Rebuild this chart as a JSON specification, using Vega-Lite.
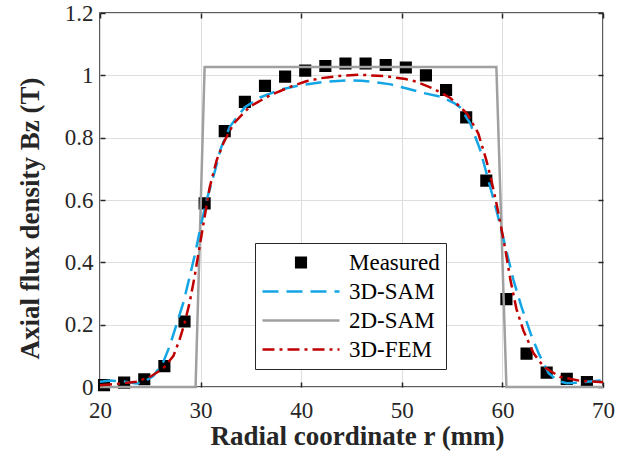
{
  "$schema": "https://vega.github.io/schema/vega-lite/v6.json",
  "autosize": {"type": "none"},
  "padding": {"left": 100, "top": 13, "right": 25, "bottom": 75},
  "width": 503,
  "height": 374,
  "background": "white",
  "config": {
    "view": {"stroke": "#262626", "strokeWidth": 1.5},
    "font": "Liberation Serif",
    "axis": {
      "labelFlush": false,
      "domain": false,
      "tickColor": "#262626",
      "tickWidth": 1.5,
      "tickSize": -5,
      "gridColor": "#dedede",
      "gridWidth": 1,
      "gridOpacity": 1
    }
  },
  "data": {
    "values": [
      {"series": "Measured", "r": 20.4, "b": 0.006},
      {"series": "Measured", "r": 22.4, "b": 0.014},
      {"series": "Measured", "r": 24.4, "b": 0.025},
      {"series": "Measured", "r": 26.4, "b": 0.067},
      {"series": "Measured", "r": 28.4, "b": 0.21},
      {"series": "Measured", "r": 30.4, "b": 0.589},
      {"series": "Measured", "r": 32.4, "b": 0.821},
      {"series": "Measured", "r": 34.4, "b": 0.915},
      {"series": "Measured", "r": 36.4, "b": 0.966},
      {"series": "Measured", "r": 38.4, "b": 0.996},
      {"series": "Measured", "r": 40.4, "b": 1.015},
      {"series": "Measured", "r": 42.4, "b": 1.03},
      {"series": "Measured", "r": 44.4, "b": 1.038},
      {"series": "Measured", "r": 46.4, "b": 1.038},
      {"series": "Measured", "r": 48.4, "b": 1.033},
      {"series": "Measured", "r": 50.4, "b": 1.025},
      {"series": "Measured", "r": 52.4, "b": 1.0},
      {"series": "Measured", "r": 54.4, "b": 0.953},
      {"series": "Measured", "r": 56.4, "b": 0.865},
      {"series": "Measured", "r": 58.4, "b": 0.662},
      {"series": "Measured", "r": 60.4, "b": 0.282},
      {"series": "Measured", "r": 62.4, "b": 0.107},
      {"series": "Measured", "r": 64.4, "b": 0.046},
      {"series": "Measured", "r": 66.4, "b": 0.026},
      {"series": "Measured", "r": 68.4, "b": 0.016},

      {"series": "2D-SAM", "r": 20.0, "b": 0.0},
      {"series": "2D-SAM", "r": 29.5, "b": 0.0},
      {"series": "2D-SAM", "r": 30.4, "b": 1.027},
      {"series": "2D-SAM", "r": 59.4, "b": 1.027},
      {"series": "2D-SAM", "r": 60.4, "b": 0.0},
      {"series": "2D-SAM", "r": 70.0, "b": 0.0},

      {"series": "3D-SAM", "r": 20.0, "b": 0.017},
      {"series": "3D-SAM", "r": 21.0, "b": 0.021},
      {"series": "3D-SAM", "r": 22.5, "b": 0.017},
      {"series": "3D-SAM", "r": 23.6, "b": 0.011},
      {"series": "3D-SAM", "r": 24.3, "b": 0.015},
      {"series": "3D-SAM", "r": 25.3, "b": 0.035},
      {"series": "3D-SAM", "r": 26.3, "b": 0.081},
      {"series": "3D-SAM", "r": 26.9, "b": 0.129},
      {"series": "3D-SAM", "r": 27.6, "b": 0.2},
      {"series": "3D-SAM", "r": 28.3, "b": 0.272},
      {"series": "3D-SAM", "r": 28.9, "b": 0.352},
      {"series": "3D-SAM", "r": 29.4, "b": 0.42},
      {"series": "3D-SAM", "r": 30.0, "b": 0.514},
      {"series": "3D-SAM", "r": 30.6, "b": 0.6},
      {"series": "3D-SAM", "r": 31.4, "b": 0.69},
      {"series": "3D-SAM", "r": 32.0, "b": 0.765},
      {"series": "3D-SAM", "r": 32.9, "b": 0.835},
      {"series": "3D-SAM", "r": 33.6, "b": 0.865},
      {"series": "3D-SAM", "r": 34.4, "b": 0.898},
      {"series": "3D-SAM", "r": 35.9, "b": 0.929},
      {"series": "3D-SAM", "r": 37.9, "b": 0.954},
      {"series": "3D-SAM", "r": 39.9, "b": 0.968},
      {"series": "3D-SAM", "r": 42.2, "b": 0.979},
      {"series": "3D-SAM", "r": 44.5, "b": 0.984},
      {"series": "3D-SAM", "r": 46.0, "b": 0.983},
      {"series": "3D-SAM", "r": 47.2, "b": 0.979},
      {"series": "3D-SAM", "r": 48.9, "b": 0.971},
      {"series": "3D-SAM", "r": 50.5, "b": 0.958},
      {"series": "3D-SAM", "r": 52.2, "b": 0.943},
      {"series": "3D-SAM", "r": 53.9, "b": 0.931},
      {"series": "3D-SAM", "r": 55.2, "b": 0.911},
      {"series": "3D-SAM", "r": 55.8, "b": 0.897},
      {"series": "3D-SAM", "r": 56.8, "b": 0.846},
      {"series": "3D-SAM", "r": 57.8, "b": 0.76},
      {"series": "3D-SAM", "r": 58.6, "b": 0.664},
      {"series": "3D-SAM", "r": 59.4, "b": 0.568},
      {"series": "3D-SAM", "r": 60.3, "b": 0.45},
      {"series": "3D-SAM", "r": 61.1, "b": 0.343},
      {"series": "3D-SAM", "r": 61.9, "b": 0.257},
      {"series": "3D-SAM", "r": 62.8, "b": 0.172},
      {"series": "3D-SAM", "r": 63.6, "b": 0.108},
      {"series": "3D-SAM", "r": 64.6, "b": 0.044},
      {"series": "3D-SAM", "r": 65.5, "b": 0.02},
      {"series": "3D-SAM", "r": 66.4, "b": 0.012},
      {"series": "3D-SAM", "r": 67.7, "b": 0.014},
      {"series": "3D-SAM", "r": 69.7, "b": 0.021},
      {"series": "3D-SAM", "r": 70.0, "b": 0.022},

      {"series": "3D-FEM", "r": 20.0, "b": 0.006},
      {"series": "3D-FEM", "r": 21.7, "b": 0.01},
      {"series": "3D-FEM", "r": 23.6, "b": 0.017},
      {"series": "3D-FEM", "r": 25.0, "b": 0.033},
      {"series": "3D-FEM", "r": 26.3, "b": 0.06},
      {"series": "3D-FEM", "r": 27.3, "b": 0.1},
      {"series": "3D-FEM", "r": 27.9, "b": 0.151},
      {"series": "3D-FEM", "r": 28.4, "b": 0.204},
      {"series": "3D-FEM", "r": 28.9, "b": 0.269},
      {"series": "3D-FEM", "r": 29.4, "b": 0.354},
      {"series": "3D-FEM", "r": 29.9, "b": 0.45},
      {"series": "3D-FEM", "r": 30.4, "b": 0.546},
      {"series": "3D-FEM", "r": 30.9, "b": 0.64},
      {"series": "3D-FEM", "r": 31.6, "b": 0.728},
      {"series": "3D-FEM", "r": 32.3, "b": 0.785},
      {"series": "3D-FEM", "r": 33.3, "b": 0.846},
      {"series": "3D-FEM", "r": 34.9, "b": 0.9},
      {"series": "3D-FEM", "r": 36.9, "b": 0.936},
      {"series": "3D-FEM", "r": 38.9, "b": 0.963},
      {"series": "3D-FEM", "r": 40.5, "b": 0.981},
      {"series": "3D-FEM", "r": 42.0, "b": 0.991},
      {"series": "3D-FEM", "r": 43.8, "b": 0.998},
      {"series": "3D-FEM", "r": 45.8, "b": 1.002},
      {"series": "3D-FEM", "r": 48.4, "b": 0.997},
      {"series": "3D-FEM", "r": 50.4, "b": 0.988},
      {"series": "3D-FEM", "r": 51.5, "b": 0.979},
      {"series": "3D-FEM", "r": 53.1, "b": 0.958},
      {"series": "3D-FEM", "r": 54.8, "b": 0.928},
      {"series": "3D-FEM", "r": 55.8, "b": 0.899},
      {"series": "3D-FEM", "r": 56.5, "b": 0.876},
      {"series": "3D-FEM", "r": 57.6, "b": 0.814},
      {"series": "3D-FEM", "r": 58.4, "b": 0.728},
      {"series": "3D-FEM", "r": 58.9, "b": 0.664},
      {"series": "3D-FEM", "r": 59.4, "b": 0.59},
      {"series": "3D-FEM", "r": 59.8, "b": 0.525},
      {"series": "3D-FEM", "r": 60.3, "b": 0.44},
      {"series": "3D-FEM", "r": 60.8, "b": 0.343},
      {"series": "3D-FEM", "r": 61.4, "b": 0.25},
      {"series": "3D-FEM", "r": 62.1, "b": 0.18},
      {"series": "3D-FEM", "r": 63.1, "b": 0.108},
      {"series": "3D-FEM", "r": 64.1, "b": 0.065},
      {"series": "3D-FEM", "r": 65.7, "b": 0.033},
      {"series": "3D-FEM", "r": 67.7, "b": 0.02},
      {"series": "3D-FEM", "r": 69.7, "b": 0.016},
      {"series": "3D-FEM", "r": 70.0, "b": 0.015}
    ]
  },
  "resolve": {"axis": {"x": "independent", "y": "independent"}},
  "layer": [
    {
      "transform": [{"filter": "datum.series === 'Measured'"}],
      "mark": {"type": "point", "filled": true, "opacity": 1, "size": 5929, "strokeWidth": 2.5},
      "encoding": {
        "x": {
          "field": "r", "type": "quantitative",
          "scale": {"domain": [20, 70], "nice": false, "zero": false},
          "axis": {"orient": "bottom", "values": [20, 30, 40, 50, 60, 70], "grid": true, "title": "Radial coordinate r (mm)",
                   "labelFont": "Liberation Serif", "labelFontSize": 23, "labelColor": "#262626", "labelPadding": 17,
                   "titleFont": "Liberation Serif", "titleFontSize": 27, "titleFontWeight": "bold", "titleColor": "#262626", "titlePadding": 1, "titleX": 257}
        },
        "y": {
          "field": "b", "type": "quantitative",
          "scale": {"domain": [0, 1.2], "nice": false, "zero": false},
          "axis": {"orient": "left", "values": [0, 0.2, 0.4, 0.6, 0.8, 1, 1.2], "format": "~g", "grid": true, "title": "Axial flux density Bz (T)",
                   "labelFont": "Liberation Serif", "labelFontSize": 23, "labelColor": "#262626", "labelPadding": 12,
                   "titleFont": "Liberation Serif", "titleFontSize": 27, "titleFontWeight": "bold", "titleColor": "#262626", "titlePadding": 20, "titleY": 205}
        },
        "fill": {
          "field": "series", "type": "nominal",
          "scale": {"domain": ["Measured", "3D-SAM", "2D-SAM", "3D-FEM"], "range": ["black", "transparent", "transparent", "transparent"]},
          "legend": {"orient": "none", "legendX": 155, "legendY": 230, "title": null, "symbolSize": 5929, "symbolStrokeWidth": 2.5, "labelFont": "Liberation Serif", "labelFontSize": 23, "labelColor": "black", "strokeColor": "#262626", "fillColor": "white", "padding": 6, "clipHeight": 27, "rowPadding": 2, "labelOffset": 8, "symbolOffset": 0}
        },
        "stroke": {
          "field": "series", "type": "nominal",
          "scale": {"domain": ["Measured", "3D-SAM", "2D-SAM", "3D-FEM"], "range": ["black", "#14a5e4", "#a0a0a0", "#c00000"]},
          "legend": {"orient": "none", "legendX": 155, "legendY": 230, "title": null, "symbolSize": 5929, "symbolStrokeWidth": 2.5, "labelFont": "Liberation Serif", "labelFontSize": 23, "labelColor": "black", "strokeColor": "#262626", "fillColor": "white", "padding": 6, "clipHeight": 27, "rowPadding": 2, "labelOffset": 8, "symbolOffset": 0}
        },
        "shape": {
          "field": "series", "type": "nominal",
          "scale": {"domain": ["Measured", "3D-SAM", "2D-SAM", "3D-FEM"], "range": ["M-0.125,-0.125H0.125V0.125H-0.125Z", "M-1,0H1", "M-1,0H1", "M-1,0H1"]},
          "legend": {"orient": "none", "legendX": 155, "legendY": 230, "title": null, "symbolSize": 5929, "symbolStrokeWidth": 2.5, "labelFont": "Liberation Serif", "labelFontSize": 23, "labelColor": "black", "strokeColor": "#262626", "fillColor": "white", "padding": 6, "clipHeight": 27, "rowPadding": 2, "labelOffset": 8, "symbolOffset": 0}
        },
        "strokeDash": {
          "field": "series", "type": "nominal",
          "scale": {"domain": ["Measured", "3D-SAM", "2D-SAM", "3D-FEM"], "range": [[1, 0], [16, 8], [1, 0], [12, 5, 3, 5]]},
          "legend": {"orient": "none", "legendX": 155, "legendY": 230, "title": null, "symbolSize": 5929, "symbolStrokeWidth": 2.5, "labelFont": "Liberation Serif", "labelFontSize": 23, "labelColor": "black", "strokeColor": "#262626", "fillColor": "white", "padding": 6, "clipHeight": 27, "rowPadding": 2, "labelOffset": 8, "symbolOffset": 0}
        }
      }
    },
    {
      "transform": [{"filter": "datum.series === '2D-SAM'"}],
      "mark": {"type": "line", "color": "#a0a0a0", "strokeWidth": 2.5},
      "encoding": {
        "x": {"field": "r", "type": "quantitative", "axis": {"orient": "top", "values": [20, 30, 40, 50, 60, 70], "labels": false, "grid": false, "title": null}},
        "y": {"field": "b", "type": "quantitative", "axis": {"orient": "right", "values": [0, 0.2, 0.4, 0.6, 0.8, 1, 1.2], "labels": false, "grid": false, "title": null}}
      }
    },
    {
      "transform": [{"filter": "datum.series === '3D-SAM'"}],
      "mark": {"type": "line", "color": "#14a5e4", "strokeWidth": 2.5, "strokeDash": [16, 8]},
      "encoding": {
        "x": {"field": "r", "type": "quantitative", "axis": null},
        "y": {"field": "b", "type": "quantitative", "axis": null}
      }
    },
    {
      "transform": [{"filter": "datum.series === '3D-FEM'"}],
      "mark": {"type": "line", "color": "#c00000", "strokeWidth": 2.5, "strokeDash": [12, 5, 3, 5]},
      "encoding": {
        "x": {"field": "r", "type": "quantitative", "axis": null},
        "y": {"field": "b", "type": "quantitative", "axis": null}
      }
    }
  ]
}
